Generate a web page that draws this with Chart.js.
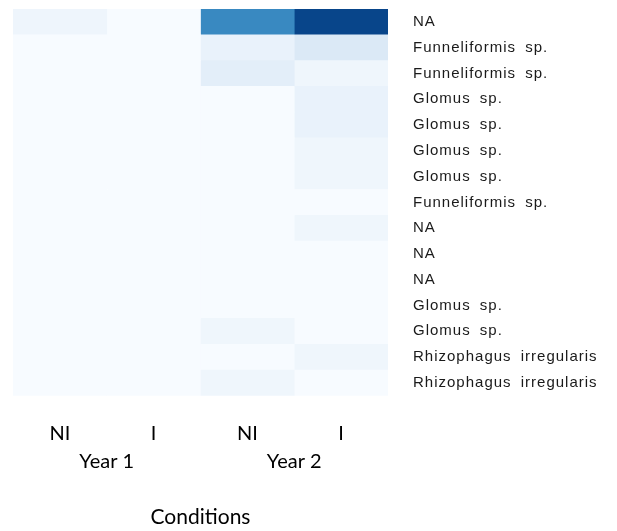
<!DOCTYPE html>
<html>
<head>
<meta charset="utf-8">
<script src="https://cdn.jsdelivr.net/npm/chart.js@4.4.1/dist/chart.umd.min.js"></script>
<style>
  html, body { margin: 0; padding: 0; background: #fff; }
  #wrap { width: 617px; height: 531px; }
</style>
</head>
<body>
<div id="wrap"><canvas id="myChart"></canvas></div>
<script>
// Taxones (filas del mapa de calor)
var taxa = [
    'NA',
    'Funneliformis sp.',
    'Funneliformis sp.',
    'Glomus sp.',
    'Glomus sp.',
    'Glomus sp.',
    'Glomus sp.',
    'Funneliformis sp.',
    'NA',
    'NA',
    'NA',
    'Glomus sp.',
    'Glomus sp.',
    'Rhizophagus irregularis',
    'Rhizophagus irregularis'
];

// Condiciones (columnas) y años
var conditions = ['NI', 'I', 'NI', 'I'];
var years = ['Year 1', 'Year 2'];

// Abundancia relativa (%) por condición, en el orden de las filas
var year1NI = [4.5, 0, 0, 0, 0, 0, 0, 0, 0, 0, 0, 0, 0, 0, 0];
var year1I  = [0, 0, 0, 0, 0, 0, 0, 0, 0, 0, 0, 0, 0, 0, 0];
var year2NI = [66, 7, 10, 0, 0, 0, 0, 0, 0, 0, 0, 0, 4, 0, 4];
var year2I  = [92, 14, 4, 7, 7, 4, 4, 0, 4, 0, 0, 0, 0, 4, 0];

var maxValue = 100;

// Paleta "Blues"
var blues = ['#f7fbff', '#deebf7', '#c6dbef', '#9ecae1', '#6baed6', '#4292c6', '#2171b5', '#08519c', '#08306b'];

function hexToRgb(hex) {
    return [parseInt(hex.slice(1, 3), 16), parseInt(hex.slice(3, 5), 16), parseInt(hex.slice(5, 7), 16)];
}

// Función para obtener el color según el valor (0 a 1)
function getBlue(t) {
    t = Math.max(0, Math.min(1, t));
    var pos = t * (blues.length - 1);
    var i = Math.min(Math.floor(pos), blues.length - 2);
    var f = pos - i;
    var a = hexToRgb(blues[i]);
    var b = hexToRgb(blues[i + 1]);
    var c = a.map(function(v, k) { return Math.round(v + (b[k] - v) * f); });
    return 'rgb(' + c.join(',') + ')';
}

// Una serie por columna; cada celda ocupa una unidad del eje x
var columns = [year1NI, year1I, year2NI, year2I];
var datasets = columns.map(function(values, i) {
    return {
        label: conditions[i],
        data: values.map(function() { return 1; }),
        backgroundColor: values.map(function(v) { return getBlue(v / maxValue); }),
        borderWidth: 0,
        barPercentage: 1,
        categoryPercentage: 1
    };
});

// Espaciado de letras para las etiquetas de los taxones (se dibujan después de las celdas)
var espaciado = {
    id: 'espaciado',
    beforeLayout: function(chart) {
        chart.ctx.letterSpacing = '0px';
        chart.ctx.wordSpacing = '0px';
    },
    beforeDraw: function(chart) {
        chart.ctx.letterSpacing = '0px';
        chart.ctx.wordSpacing = '0px';
    },
    afterDatasetsDraw: function(chart) {
        chart.ctx.letterSpacing = '1px';
        chart.ctx.wordSpacing = '4px';
    },
    afterDraw: function(chart) {
        chart.ctx.letterSpacing = '0px';
        chart.ctx.wordSpacing = '0px';
    }
};

var ctx = document.getElementById('myChart').getContext('2d');
var myChart = new Chart(ctx, {
    type: 'bar',
    data: {
        labels: taxa,
        datasets: datasets
    },
    plugins: [espaciado],
    options: {
        indexAxis: 'y',
        responsive: true,
        maintainAspectRatio: false,
        animation: false,
        layout: {
            padding: { left: 13, top: 6, right: 10, bottom: 0 }
        },
        plugins: {
            legend: { display: false },
            tooltip: { enabled: false }
        },
        scales: {
            x: {
                type: 'linear',
                position: 'bottom',
                stacked: true,
                min: 0,
                max: 4,
                grid: { display: false, drawTicks: true, tickLength: 26 },
                border: { display: false },
                afterBuildTicks: function(axis) {
                    axis.ticks = [0.5, 1.5, 2.5, 3.5].map(function(v) { return { value: v }; });
                },
                ticks: {
                    padding: 0,
                    color: '#000',
                    autoSkip: false,
                    maxRotation: 0,
                    font: { family: 'Lato', size: 20 },
                    callback: function(value, index) { return conditions[index]; }
                }
            },
            x2: {
                type: 'linear',
                position: 'bottom',
                min: 0,
                max: 4,
                grid: { display: false, drawTicks: true, tickLength: 4 },
                border: { display: false },
                afterBuildTicks: function(axis) {
                    axis.ticks = [1, 3].map(function(v) { return { value: v }; });
                },
                ticks: {
                    padding: 0,
                    color: '#000',
                    autoSkip: false,
                    maxRotation: 0,
                    font: { family: 'Lato', size: 20 },
                    callback: function(value, index) { return years[index]; }
                },
                title: {
                    display: true,
                    text: 'Conditions',
                    color: '#000',
                    font: { family: 'Lato', size: 21 },
                    padding: { top: 31, bottom: 1 }
                }
            },
            y: {
                type: 'category',
                position: 'right',
                stacked: true,
                offset: true,
                grid: { display: false, drawTicks: true, tickLength: 25 },
                border: { display: false },
                // ancho fijo: las etiquetas llevan espaciado extra
                afterFit: function(axis) {
                    axis.width = 219;
                },
                ticks: {
                    z: 1,
                    padding: 0,
                    crossAlign: 'near',
                    autoSkip: false,
                    color: '#1a1a1a',
                    font: { family: 'Liberation Sans', size: 15 }
                }
            }
        }
    }
});
</script>
</body>
</html>
